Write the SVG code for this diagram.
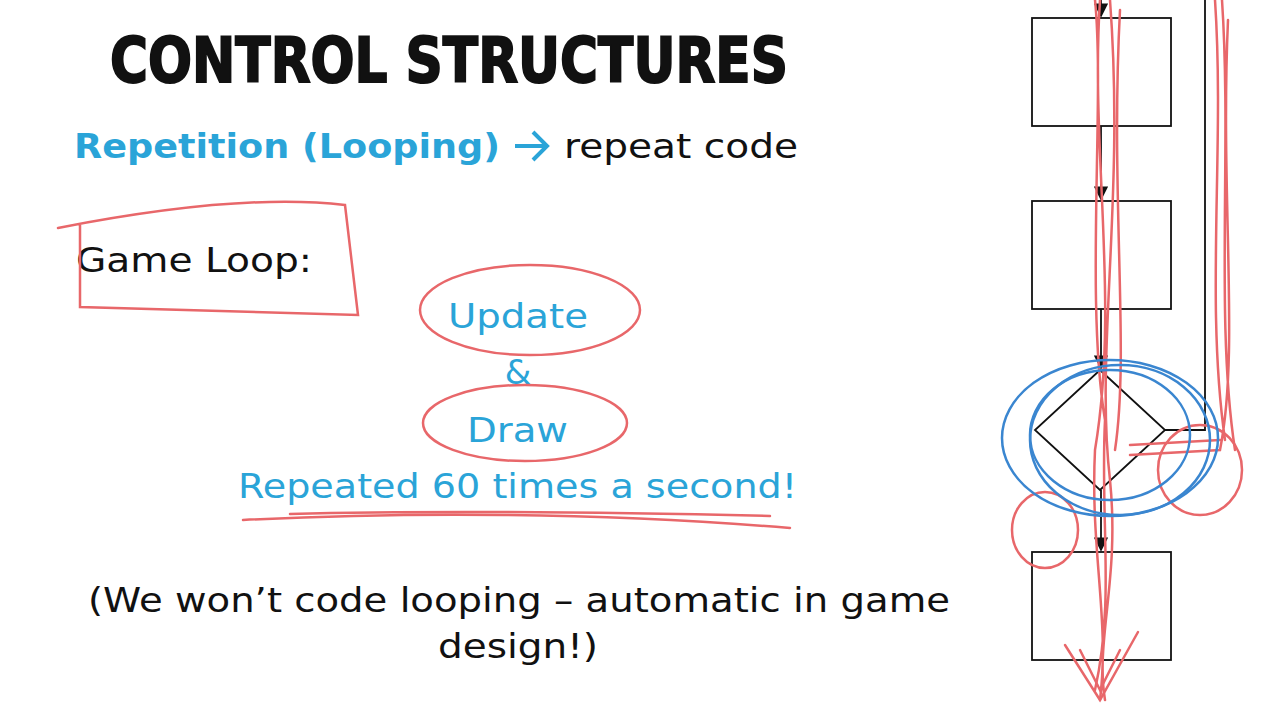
<svg xmlns="http://www.w3.org/2000/svg" width="1280" height="720" viewBox="0 0 1280 720">
<style>
.t{font-family:"DejaVu Sans","Liberation Sans",sans-serif}
.b{fill:#2aa4d8}
.red{fill:none;stroke:#e8676a;stroke-width:2.5;stroke-linecap:round}
.blu{fill:none;stroke:#3a86d0;stroke-width:2.5}
.fc{fill:none;stroke:#111;stroke-width:1.8}
</style>
<defs><marker id="a" markerWidth="8" markerHeight="8" refX="7" refY="4" orient="auto"><path d="M0,0 L8,4 L0,8z" fill="#111"/></marker></defs>
<rect width="1280" height="720" fill="#fff"/>
<text x="110" y="82" class="t" font-size="62" font-weight="bold" textLength="678" lengthAdjust="spacingAndGlyphs" fill="#111" stroke="#111" stroke-width="2">CONTROL STRUCTURES</text>
<text x="74" y="158" class="t b" font-size="34" font-weight="bold" textLength="426" lengthAdjust="spacingAndGlyphs">Repetition (Looping)</text>
<path d="M515,146 H547 M533,132 L547,146 L533,160" fill="none" stroke="#2aa4d8" stroke-width="4"/>
<text x="564" y="158" class="t" font-size="34" fill="#111" textLength="234" lengthAdjust="spacingAndGlyphs">repeat code</text>
<text x="76" y="272" class="t" font-size="34" fill="#111" textLength="236" lengthAdjust="spacingAndGlyphs">Game Loop:</text>
<text x="448" y="328" class="t b" font-size="34" textLength="140" lengthAdjust="spacingAndGlyphs">Update</text>
<text x="518" y="384" class="t b" font-size="34" text-anchor="middle">&amp;</text>
<text x="467" y="442" class="t b" font-size="34" textLength="101" lengthAdjust="spacingAndGlyphs">Draw</text>
<text x="238" y="498" class="t b" font-size="34" textLength="559" lengthAdjust="spacingAndGlyphs">Repeated 60 times a second!</text>
<text x="88" y="612" class="t" font-size="34" fill="#111" textLength="862" lengthAdjust="spacingAndGlyphs">(We won’t code looping – automatic in game</text>
<text x="438" y="658" class="t" font-size="34" fill="#111" textLength="160" lengthAdjust="spacingAndGlyphs">design!)</text>
<g id="flow">
<rect x="1032" y="18" width="139" height="108" class="fc"/>
<rect x="1032" y="201" width="139" height="108" class="fc"/>
<rect x="1032" y="552" width="139" height="108" class="fc"/>
<path d="M1100,370 L1165,430 L1100,490 L1035,430 Z" class="fc"/>
<g class="fc" marker-end="url(#a)">
<path d="M1101,0 V16"/><path d="M1101,126 V199"/><path d="M1101,309 V368"/><path d="M1101,490 V550"/>
</g>
<path d="M1165,430 H1205 V0" class="fc"/>
</g>
<g id="ink">
<path class="red" d="M58,228 C150,210 260,195 345,205 L358,315 L80,307 L80,225"/>
<ellipse cx="530" cy="310" rx="110" ry="45" class="red"/>
<ellipse cx="525" cy="423" rx="102" ry="38" class="red"/>
<path class="red" d="M243,520 C400,512 600,512 790,528 M290,514 C450,510 600,512 770,516"/>
<path class="red" d="M1100,0 C1090,150 1120,300 1095,450 C1090,550 1110,620 1100,700 M1110,0 C1125,200 1095,350 1110,480 C1120,580 1095,640 1105,700 M1095,0 C1105,100 1085,300 1105,420 C1100,520 1115,600 1095,690 M1120,10 C1110,200 1130,350 1115,450"/>
<path class="red" d="M1215,0 C1225,150 1205,300 1225,440 M1222,0 C1232,150 1215,320 1235,450 M1228,20 C1220,200 1240,350 1220,450 L1130,455 M1220,440 L1130,445"/>
<path class="red" d="M1065,645 L1100,700 L1138,632 M1080,650 L1100,690 L1120,650"/>
<ellipse cx="1200" cy="470" rx="42" ry="45" class="red"/>
<ellipse cx="1045" cy="530" rx="33" ry="38" class="red"/>
<ellipse cx="1110" cy="438" rx="108" ry="78" class="blu"/>
<ellipse cx="1120" cy="440" rx="90" ry="75" class="blu"/>
<ellipse cx="1110" cy="435" rx="80" ry="65" class="blu"/>
</g>
</svg>
